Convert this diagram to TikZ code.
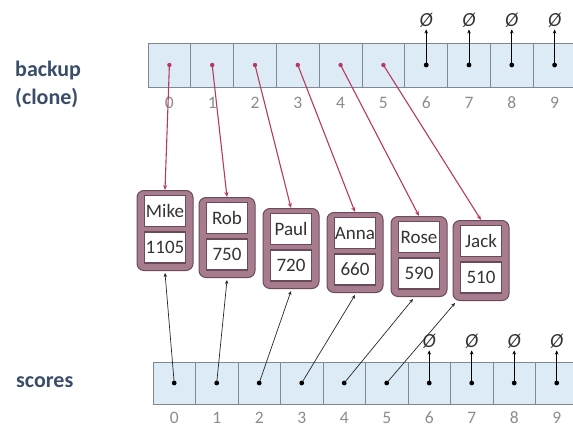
\documentclass[tikz,border=0pt]{standalone}
\usepackage{fontspec}
\setmainfont{Carlito}
\usepackage{tikz}
\usetikzlibrary{arrows.meta,positioning,calc}
\definecolor{cellblue}{HTML}{DDEBF7}
\definecolor{cellline}{HTML}{7D8894}
\definecolor{mauve}{HTML}{A67C8E}
\definecolor{mauvedark}{HTML}{6B4A59}
\definecolor{redx}{HTML}{B53A5E}
\definecolor{labelblue}{HTML}{3A4D69}
\definecolor{idxgray}{HTML}{8C8C8C}

\begin{document}
\begin{tikzpicture}[x=1pt,y=-1pt,
  cell/.style={draw=cellline, fill=cellblue, line width=0.9pt, minimum width=42.8pt, minimum height=44pt, inner sep=0pt},
  idx/.style={font=\fontsize{17.5}{17.5}\selectfont, text=idxgray, inner sep=0pt},
  nul/.style={font=\fontsize{20}{20}\selectfont\itshape, text=black!80, inner sep=0pt},
  record/.style={draw=mauvedark, fill=mauve, line width=1pt, rounded corners=7pt, minimum width=56pt, minimum height=80pt, inner sep=0pt, anchor=north},
  field/.style={draw=mauvedark, fill=white, line width=1.2pt, minimum width=41pt, minimum height=31pt, inner sep=0pt, font=\fontsize{19}{19}\selectfont, text=black!80},
  tag/.style={font=\fontsize{22}{28}\selectfont\bfseries, text=labelblue, align=left, anchor=west, inner sep=0pt}]
\useasboundingbox (0,0) rectangle (573,428);
\clip (0,0) rectangle (573,428);
% labels
\node[tag] (backuptag) at (15,84) {backup\\(clone)};
\node[tag] (scorestag) at (16,382) {scores};
% the two arrays
\foreach \i in {0,...,9} {
  \node[cell] (b\i) at ({169.4+42.8*\i},65) {};
  \node[idx] (bl\i) at ($(b\i.south)+(0,15)$) {\i};
  \node[cell, minimum width=42.5pt, minimum height=42pt] (s\i) at ({174.2+42.5*\i},383) {};
  \node[idx] (sl\i) at ($(s\i.south)+(0,13)$) {\i};
}
% empty slots point to null
\foreach \i in {6,...,9} {
  \node[nul] (bn\i) at ($(b\i.north)+(0,-22)$) {Ø};
  \node[nul] (sn\i) at ($(s\i.north)+(0,-20)$) {Ø};
  \fill[black] (b\i.center) circle (2.4pt);
  \fill[black] (s\i.center) circle (2.4pt);
  \draw[line width=0.9pt, -{Stealth[length=4pt,width=3.5pt]}, shorten >=1.5pt] (b\i.center) -- (bn\i.south);
  \draw[line width=0.9pt, -{Stealth[length=4pt,width=3.5pt]}, shorten >=1.5pt] (s\i.center) -- (sn\i.south);
}
% score records
\foreach \name/\pts/\x/\y/\dx [count=\i from 0] in {Mike/1105/165/190/0, Rob/750/227/197/0, Paul/720/291/208/0, Anna/660/355/212/0, Rose/590/419/216/-6, Jack/510/481/220/-26} {
  \node[record] (r\i) at (\x,\y) {};
  \node[field] (rn\i) at ($(r\i.north)+(0,21)$) {\name};
  \node[field] (rs\i) at ($(r\i.north)+(0,57.5)$) {\pts};
  % backup references
  \draw[redx, line width=1.1pt, -{Stealth[length=5pt,width=4pt]}] (b\i.center) -- (r\i.north);
  \fill[redx] (b\i.center) circle (2.2pt);
  % original references
  \draw[black!85, line width=0.7pt, -{Stealth[length=4pt,width=3.5pt]}] (s\i.center) -- ($(r\i.south)+(\dx,2)$);
  \fill[black] (s\i.center) circle (2.4pt);
}
\end{tikzpicture}
\end{document}
